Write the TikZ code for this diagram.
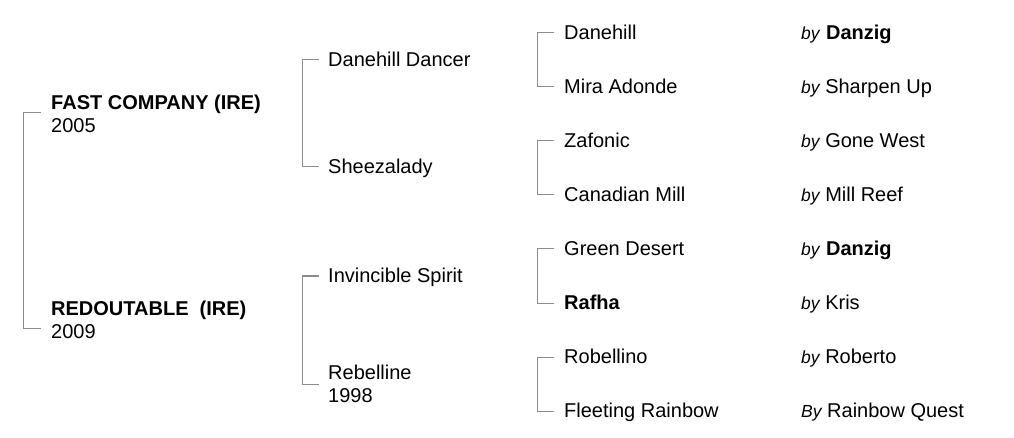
\documentclass[tikz,border=0pt]{standalone}
\usepackage{fontspec}
\setmainfont{Liberation Sans}
\usetikzlibrary{positioning}

\newcommand{\byword}[1]{{\fontsize{17.5}{23}\selectfont\itshape #1}}

\begin{document}
\begin{tikzpicture}[x=1pt, y=-1pt,
  every node/.style={anchor=west, inner sep=0pt, text height=14pt, text depth=1pt,
    font=\fontsize{20}{23}\selectfont},
  twoline/.style={align=left, text height=, text depth=},
  bracket/.style={draw=black!45, line width=1pt}]

% ===== Define layout parameters =====
\def\xFoal{51}      % x-coordinate of the foals
\def\xParent{328}   % x-coordinate of the parents
\def\xGrand{564}    % x-coordinate of the grandparents
\def\xSire{801}     % x-coordinate of the "by" column
\def\gap{10}        % space between bracket and name
\def\tick{17}       % length of a bracket tick

\useasboundingbox (0,0) rectangle (1014,438);

% ===== Foals =====
\node[twoline] (F1) at (\xFoal,114) {\textbf{FAST COMPANY (IRE)}\\2005};
\node[twoline] (F2) at (\xFoal,320) {\textbf{REDOUTABLE\ \ (IRE)}\\2009};

% ===== Parents =====
\node (P1) at (\xParent,60) {Danehill Dancer};
\node (P2) at (\xParent,167) {Sheezalady};
\node (P3) at (\xParent,276) {Invincible Spirit};
\node[twoline] (P4) at (\xParent,384) {Rebelline\\1998};

% ===== Grandparents and their sires =====
\foreach \i/\y/\name/\sire in {
    1/33/Danehill/\byword{by} \textbf{Danzig},
    2/87/Mira Adonde/\byword{by} Sharpen Up,
    3/141/Zafonic/\byword{by} Gone West,
    4/195/Canadian Mill/\byword{by} Mill Reef,
    5/249/Green Desert/\byword{by} \textbf{Danzig},
    6/303/\textbf{Rafha}/\byword{by} Kris,
    7/357/Robellino/\byword{by} Roberto,
    8/411/Fleeting Rainbow/\byword{By} Rainbow Quest} {
    \node (G\i) at (\xGrand,\y) {\name};
    \node (S\i) at (\xSire,\y) {\sire};
}

% ===== Brackets =====
\foreach \i/\j in {1/2,3/4,5/6,7/8} {
    \draw[bracket] ([xshift=-\gap pt]G\i.west) -- ++(-\tick,0) |- ([xshift=-\gap pt]G\j.west);
}
\foreach \i/\j in {1/2,3/4} {
    \draw[bracket] ([xshift=-9pt]P\i.west) -- ++(-\tick,0) |- ([xshift=-9pt]P\j.west);
}
\draw[bracket] ([xshift=-\gap pt,yshift=1pt]F1.west) -- ++(-18,0) |- ([xshift=-\gap pt,yshift=-8pt]F2.west);

\end{tikzpicture}
\end{document}
